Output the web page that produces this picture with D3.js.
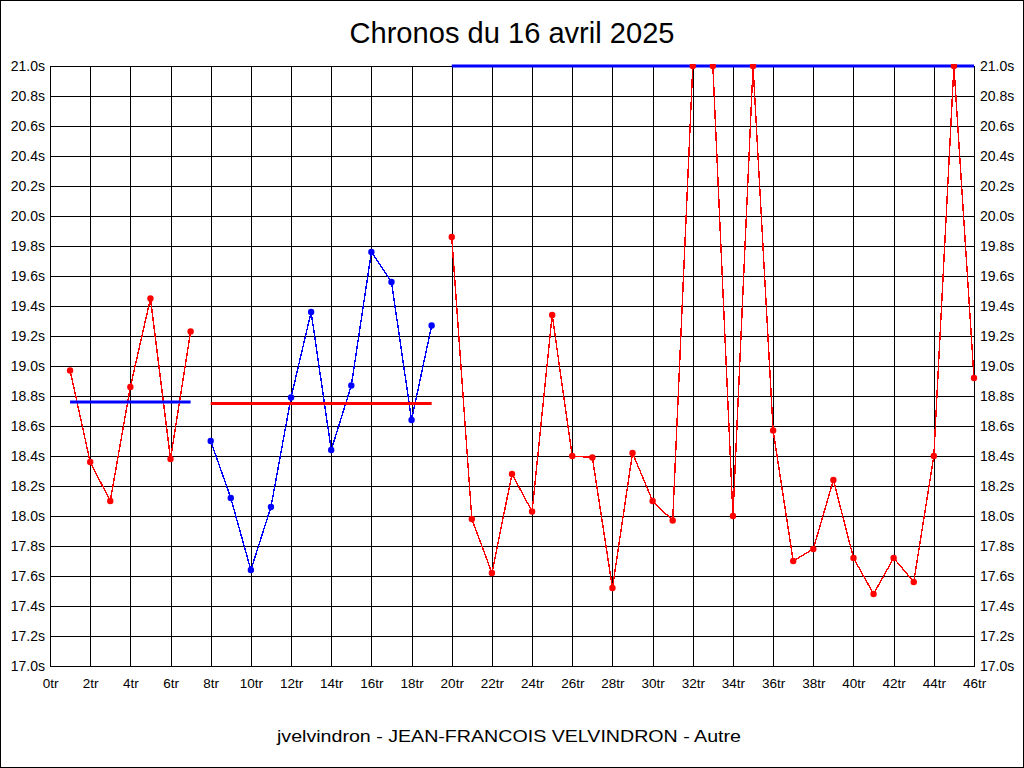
<!DOCTYPE html>
<html>
<head>
<meta charset="utf-8">
<script src="https://cdn.jsdelivr.net/npm/d3@7"></script>
<style>
  html, body { margin: 0; padding: 0; background: #fff; }
  svg { display: block; }
  text { font-family: "Liberation Sans", Arial, sans-serif; fill: #000; }
</style>
</head>
<body>
<svg id="chart" width="1024" height="768"></svg>
<script>
// ---- Data ----
const title = "Chronos du 16 avril 2025";
const subtitle = "jvelvindron - JEAN-FRANCOIS VELVINDRON - Autre";

const lapsA = [1, 2, 3, 4, 5, 6, 7];
const timesA = [18.97, 18.36, 18.10, 18.86, 19.45, 18.38, 19.23];
const meanA = 18.76;

const lapsB = [8, 9, 10, 11, 12, 13, 14, 15, 16, 17, 18, 19];
const timesB = [18.50, 18.12, 17.64, 18.06, 18.79, 19.36, 18.44, 18.87, 19.76, 19.56, 18.64, 19.27];
const meanB = 18.75;

const lapsC = [20, 21, 22, 23, 24, 25, 26, 27, 28, 29, 30, 31, 32, 33, 34, 35, 36, 37, 38, 39, 40, 41, 42, 43, 44, 45, 46];
const timesC = [19.86, 17.98, 17.62, 18.28, 18.03, 19.34, 18.40, 18.39, 17.52, 18.42, 18.10, 17.97, 21.0, 21.0, 18.00, 21.0, 18.57, 17.70, 17.78, 18.24, 17.72, 17.48, 17.72, 17.56, 18.40, 21.0, 18.92];
const meanC = 21.0;

const xTickValues = [0, 2, 4, 6, 8, 10, 12, 14, 16, 18, 20, 22, 24, 26, 28, 30, 32, 34, 36, 38, 40, 42, 44, 46];
const yTickValues = [17.0, 17.2, 17.4, 17.6, 17.8, 18.0, 18.2, 18.4, 18.6, 18.8, 19.0, 19.2, 19.4, 19.6, 19.8, 20.0, 20.2, 20.4, 20.6, 20.8, 21.0];

const groups = [
  { laps: lapsA, times: timesA, mean: meanA, color: "#ff0000", meanColor: "#0000ff" },
  { laps: lapsB, times: timesB, mean: meanB, color: "#0000ff", meanColor: "#ff0000" },
  { laps: lapsC, times: timesC, mean: meanC, color: "#ff0000", meanColor: "#0000ff" }
];

// ---- Layout ----
const W = 1024, H = 768;
const L = 50, R = 974, T = 66, B = 666;

const svg = d3.select("#chart");

const x = d3.scaleLinear().domain([0, 46]).range([L, R]);
const y = d3.scaleLinear().domain([17.0, 21.0]).range([B, T]);

// outer frame
svg.append("rect")
  .attr("x", 0.5).attr("y", 0.5).attr("width", W - 1).attr("height", H - 1)
  .attr("fill", "#fff").attr("stroke", "#000").attr("stroke-width", 1);

// clip
svg.append("defs").append("clipPath").attr("id", "plotclip")
  .append("rect").attr("x", L - 4).attr("y", T - 2).attr("width", R - L + 9).attr("height", B - T + 6);

// grid lines
const grid = svg.append("g").attr("shape-rendering", "crispEdges");
grid.selectAll("line.v").data(xTickValues).enter().append("line")
  .attr("x1", d => Math.round(x(d)) + 0.5).attr("x2", d => Math.round(x(d)) + 0.5)
  .attr("y1", T).attr("y2", B)
  .attr("stroke", "#000").attr("stroke-width", 1);
grid.selectAll("line.h").data(yTickValues).enter().append("line")
  .attr("x1", L).attr("x2", R + 1)
  .attr("y1", d => Math.round(y(d)) + 0.5).attr("y2", d => Math.round(y(d)) + 0.5)
  .attr("stroke", "#000").attr("stroke-width", 1);
grid.append("line")
  .attr("x1", R + 0.5).attr("x2", R + 0.5).attr("y1", T).attr("y2", B)
  .attr("stroke", "#000");

// axes labels
const fmtY = d => d3.format(".1f")(d) + "s";
const leftAxis = d3.axisLeft(y).tickValues(yTickValues).tickFormat(fmtY).tickSize(0).tickPadding(5);
const rightAxis = d3.axisRight(y).tickValues(yTickValues).tickFormat(fmtY).tickSize(0).tickPadding(6);
const bottomAxis = d3.axisBottom(x).tickValues(xTickValues).tickFormat(d => d + "tr").tickSize(0).tickPadding(12);

const gl = svg.append("g").attr("transform", `translate(${L},0)`).call(leftAxis);
const gr = svg.append("g").attr("transform", `translate(${R},0)`).call(rightAxis);
const gb = svg.append("g").attr("transform", `translate(0,${B})`).call(bottomAxis);
[gl, gr, gb].forEach(g => {
  g.select(".domain").remove();
  g.selectAll("text").attr("font-family", "Liberation Sans, Arial, sans-serif").attr("fill", "#000");
});
gl.selectAll("text").attr("font-size", 14);
gr.selectAll("text").attr("font-size", 14);
gb.selectAll("text").attr("font-size", 13.5);

// series
const plot = svg.append("g").attr("clip-path", "url(#plotclip)");
const line = d3.line().x(d => x(d[0])).y(d => y(d[1]));

groups.forEach(g => {
  const pts = g.laps.map((l, i) => [l, g.times[i]]);
  plot.append("path")
    .attr("d", line(pts))
    .attr("fill", "none")
    .attr("stroke", g.color)
    .attr("stroke-width", 1.4)
    .attr("shape-rendering", "crispEdges");
  plot.append("line")
    .attr("x1", x(g.laps[0])).attr("x2", x(g.laps[g.laps.length - 1]))
    .attr("y1", y(g.mean)).attr("y2", y(g.mean))
    .attr("stroke", g.meanColor).attr("stroke-width", 3);
});
groups.forEach(g => {
  const pts = g.laps.map((l, i) => [l, g.times[i]]);
  plot.selectAll(null).data(pts).enter().append("circle")
    .attr("cx", d => x(d[0])).attr("cy", d => y(d[1]))
    .attr("r", 3.2)
    .attr("fill", g.color);
});

// title & subtitle
svg.append("text")
  .attr("x", 512).attr("y", 43)
  .attr("text-anchor", "middle")
  .attr("font-size", 29)
  .attr("textLength", 325)
  .attr("lengthAdjust", "spacingAndGlyphs")
  .text(title);

svg.append("text")
  .attr("x", 509).attr("y", 742)
  .attr("text-anchor", "middle")
  .attr("font-size", 17)
  .attr("textLength", 464)
  .attr("lengthAdjust", "spacingAndGlyphs")
  .text(subtitle);
</script>
</body>
</html>
